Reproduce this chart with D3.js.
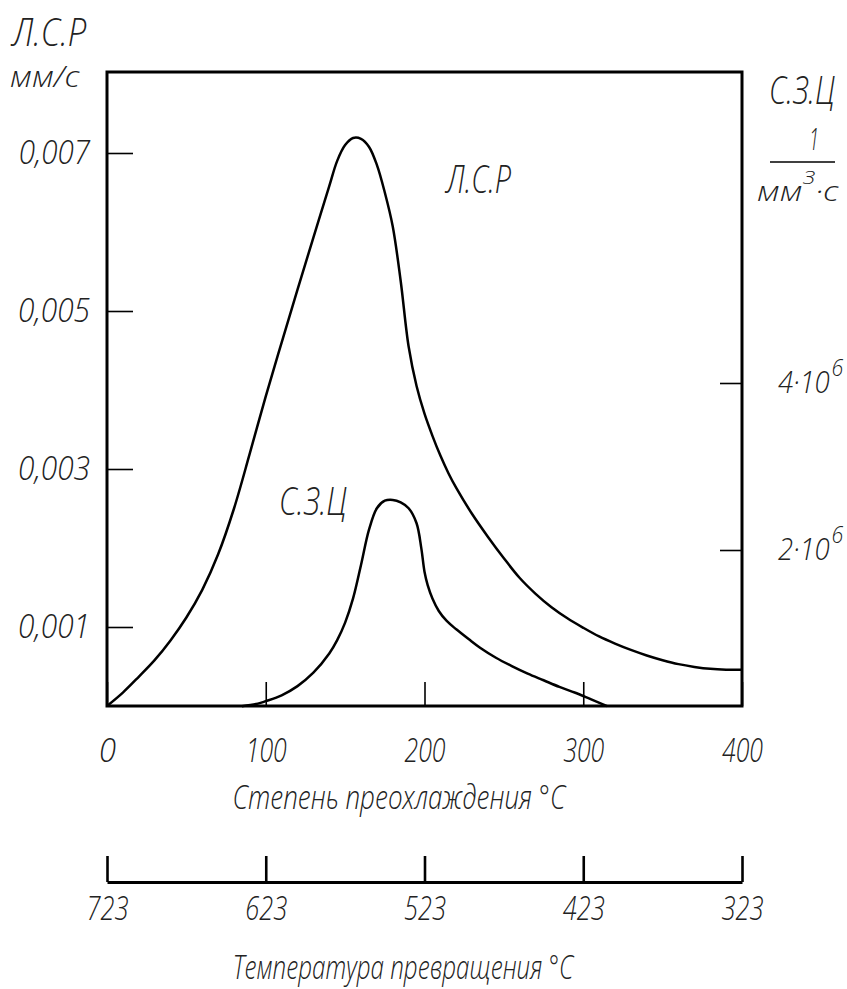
<!DOCTYPE html>
<html>
<head>
<meta charset="utf-8">
<script src="https://cdn.jsdelivr.net/npm/d3@7"></script>
<style>
  html, body { margin: 0; padding: 0; background: #fff; }
  svg text { font-family: "Open Sans", "DejaVu Sans", sans-serif; font-weight: 300; font-style: italic; fill: #222; }
</style>
</head>
<body>
<svg id="chart" width="847" height="989"></svg>
<script>
// ---- data ----
// Степень преохлаждения, °C, for Л.С.Р (mm/s)
const lsrT = [0, 10, 20, 30, 40, 50, 60, 70, 80, 90, 100, 110, 120, 130, 140, 145, 150, 155, 160, 165, 170, 175, 180, 185, 190, 195, 200, 205, 210, 215, 220, 230, 240, 250, 260, 270, 280, 290, 300, 310, 320, 330, 340, 350, 360, 370, 380, 390, 400];
const lsrV = [0, 0.00017, 0.00037, 0.00058, 0.00083, 0.00112, 0.00147, 0.00192, 0.00250, 0.00320, 0.00392, 0.00460, 0.00527, 0.00593, 0.00658, 0.00690, 0.00710, 0.00719, 0.00718, 0.00708, 0.00685, 0.00650, 0.00607, 0.00538, 0.00455, 0.00405, 0.00370, 0.00342, 0.00317, 0.00295, 0.00276, 0.00243, 0.00214, 0.00187, 0.00162, 0.00142, 0.00125, 0.00111, 0.00099, 0.00088, 0.00079, 0.00071, 0.00064, 0.00058, 0.00053, 0.000495, 0.00047, 0.00046, 0.00046];
// С.З.Ц, millions of 1/(mm^3·s)
const szcT = [85, 95, 100, 110, 120, 130, 140, 145, 150, 155, 160, 165, 170, 175, 180, 185, 190, 195, 198, 200, 202, 205, 209, 214, 220, 228, 235, 245, 255, 265, 275, 285, 295, 305, 315];
const szcV = [0.13, 0.16, 0.19, 0.26, 0.37, 0.53, 0.76, 0.92, 1.13, 1.42, 1.82, 2.24, 2.50, 2.59, 2.60, 2.57, 2.50, 2.32, 2.02, 1.74, 1.58, 1.42, 1.27, 1.15, 1.05, 0.93, 0.83, 0.71, 0.61, 0.52, 0.44, 0.36, 0.29, 0.21, 0.13];

const xTicks = [0, 100, 200, 300, 400];
const leftTicks = [0.001, 0.003, 0.005, 0.007];
const leftTickLabels = ["0,001", "0,003", "0,005", "0,007"];
const rightTicks = [2, 4];
const rightTickLabels = ["2", "4"];
const tempTicks = [723, 623, 523, 423, 323];

// ---- layout ----
const L = 107, R = 742, T = 72, B = 706;
const svg = d3.select("#chart");

const x = d3.scaleLinear().domain([0, 400]).range([L, R]);
const yL = d3.scaleLinear().domain([0, 0.001]).range([B, B - 79]);
const yR = d3.scaleLinear().domain([0, 4]).range([717, 383]);
const xT = d3.scaleLinear().domain([723, 323]).range([L, R]);

// squeeze a text horizontally to a target width (narrow drafting font look)
function squeeze(sel, targetW) {
  sel.each(function () {
    const t = d3.select(this);
    const x0 = +(t.attr("x") || 0);
    t.attr("x", 0).attr("transform", null);
    const w = this.getBBox().width;
    const k = w > 0 ? targetW / w : 1;
    t.attr("transform", `translate(${x0},0) scale(${k},1)`);
  });
}

// curves
const lsrLine = d3.line().x((d, i) => x(lsrT[i])).y(d => yL(d)).curve(d3.curveCatmullRom.alpha(0.5));
const szcLine = d3.line().x((d, i) => x(szcT[i])).y(d => yR(d)).curve(d3.curveCatmullRom.alpha(0.5));

svg.append("path").attr("d", lsrLine(lsrV))
  .attr("fill", "none").attr("stroke", "#000").attr("stroke-width", 2.5);
svg.append("path").attr("d", szcLine(szcV))
  .attr("fill", "none").attr("stroke", "#000").attr("stroke-width", 2.5);

// left axis
const gL = svg.append("g").attr("transform", `translate(${L},0)`)
  .call(d3.axisLeft(yL).tickValues(leftTicks).tickSize(-26).tickPadding(17)
    .tickFormat((d, i) => leftTickLabels[i]));
gL.select(".domain").remove();
gL.selectAll(".tick line").attr("stroke", "#000").attr("stroke-width", 1.6);
gL.selectAll(".tick text").attr("font-size", 33).attr("font-family", null);
squeeze(gL.selectAll(".tick text"), 72);

// bottom axis (inner ticks)
const gB = svg.append("g").attr("transform", `translate(0,${B})`)
  .call(d3.axisBottom(x).tickValues(xTicks).tickSize(-24).tickPadding(0));
gB.select(".domain").remove();
gB.selectAll(".tick line").attr("stroke", "#000").attr("stroke-width", 1.6);
gB.selectAll(".tick text").attr("font-size", 33).attr("font-family", null)
  .attr("y", 44).attr("dy", "0.35em");
gB.selectAll(".tick text").each(function (d) { squeeze(d3.select(this), d === 0 ? 17 : 41); });

// right axis
const gR = svg.append("g").attr("transform", `translate(${R},0)`)
  .call(d3.axisRight(yR).tickValues(rightTicks).tickSize(-22).tickPadding(36));
gR.select(".domain").remove();
gR.selectAll(".tick line").attr("stroke", "#000").attr("stroke-width", 1.6);
gR.selectAll(".tick text").each(function (d, i) {
  const t = d3.select(this);
  t.text(null).attr("font-size", 31).attr("font-family", null).attr("dy", "0.3em");
  t.append("tspan").text(rightTickLabels[i] + "·10");
  t.append("tspan").text("6").attr("dy", "-0.7em").attr("dx", 2).attr("font-size", 24);
  squeeze(t, 66);
});

// frame
svg.append("rect").attr("x", L).attr("y", T).attr("width", R - L).attr("height", B - T)
  .attr("fill", "none").attr("stroke", "#000").attr("stroke-width", 3);

// temperature axis
const gT = svg.append("g").attr("transform", "translate(0,882)")
  .call(d3.axisBottom(xT).tickValues(tempTicks).tickSize(-26).tickSizeOuter(0).tickPadding(0));
gT.select(".domain").attr("stroke", "#000").attr("stroke-width", 3);
gT.selectAll(".tick line").attr("stroke", "#000").attr("stroke-width", 2.6);
gT.selectAll(".tick text").attr("font-size", 33).attr("font-family", null)
  .attr("y", 26).attr("dy", "0.35em");
squeeze(gT.selectAll(".tick text"), 42);

// titles and labels
function label(px, py, str, size, w, anchor) {
  const g = svg.append("g").attr("transform", `translate(${px},${py})`);
  const t = g.append("text").attr("font-size", size).attr("text-anchor", anchor || "start").text(str);
  squeeze(t, w);
  return t;
}
label(399, 809, "Степень преохлаждения  °C", 33, 334, "middle");
label(403, 979, "Температура превращения  °C", 33, 342, "middle");

// left axis title
label(12, 46, "Л.С.Р", 39, 76);
label(10, 87, "мм/с", 30, 70);

// right axis title
label(769, 104, "С.З.Ц", 38, 66);
label(814, 150, "1", 31, 10, "middle");
svg.append("line").attr("x1", 770).attr("x2", 835).attr("y1", 162).attr("y2", 162)
  .attr("stroke", "#000").attr("stroke-width", 1.6);
{
  const g = svg.append("g").attr("transform", "translate(757,201)");
  const u = g.append("text").attr("font-size", 28);
  u.append("tspan").text("мм");
  u.append("tspan").text("3").attr("dy", -17).attr("font-size", 19);
  u.append("tspan").text("·с").attr("dy", 17);
  squeeze(u, 82);
}

// curve labels
label(446, 193, "Л.С.Р", 38, 67);
label(279, 515, "С.З.Ц", 38, 68);
</script>
</body>
</html>
